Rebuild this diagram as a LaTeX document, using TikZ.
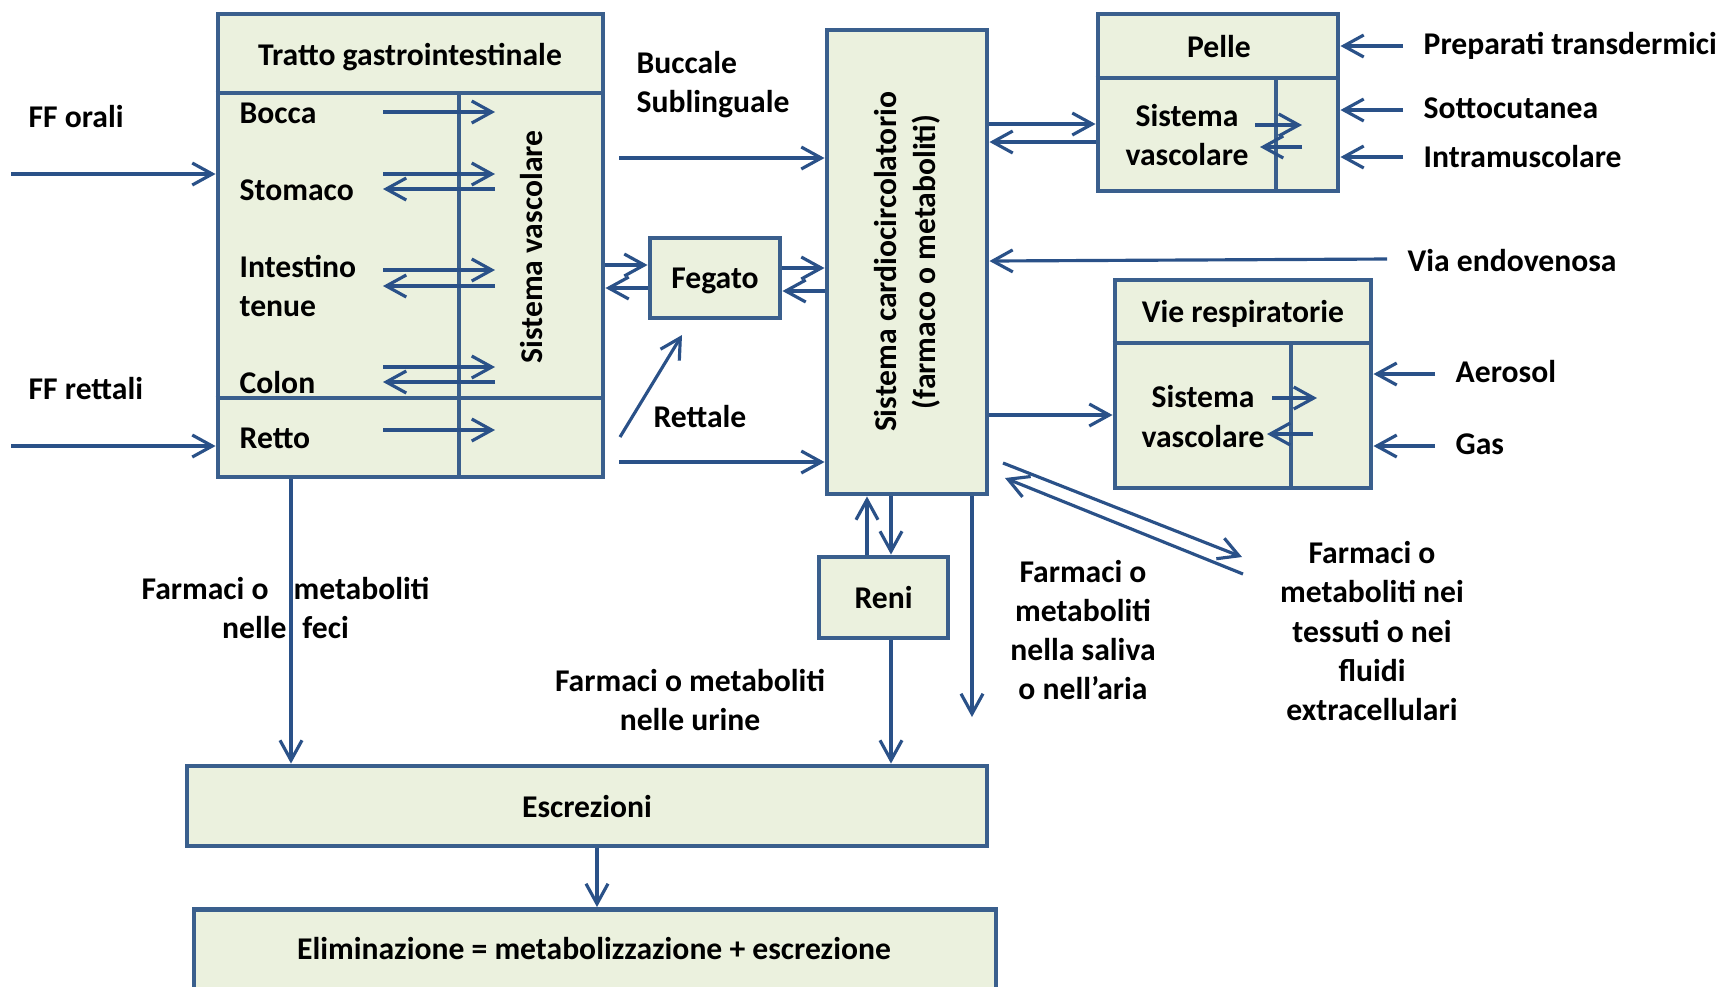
\documentclass[tikz,border=0pt]{standalone}
\usepackage{fontspec}
\setmainfont{Carlito}
\usetikzlibrary{calc,arrows.meta}
\definecolor{edge}{HTML}{3A5F8D}
\definecolor{pane}{HTML}{EBF1DE}
\definecolor{flowc}{HTML}{2A5188}
\begin{document}
\begin{tikzpicture}[
    lbl/.style={font=\bfseries\fontsize{9}{11.1}\selectfont, inner sep=0pt},
    blk/.style={lbl, draw=edge, fill=pane, line width=1.4pt, text depth=0pt},
    sep/.style={draw=edge, line width=1.4pt},
    arr/.style={draw=flowc, line width=0.9pt, -{Straight Barb[length=2mm,width=2.2mm]}}
  ]
  \useasboundingbox (0,0) rectangle (17.23,-9.86);

  % tratto gastrointestinale
  \node[blk, minimum width=3.85cm, minimum height=4.63cm] (gi) at (4.105,-2.455) {};
  \draw[sep] (gi.west |- 0,-0.93) -- (gi.east |- 0,-0.93);
  \draw[sep] (gi.west |- 0,-3.98) -- (gi.east |- 0,-3.98);
  \draw[sep] (4.59,-0.93) -- (4.59,0 |- gi.south);
  \node[lbl] (gihd) at (4.10,-0.57) {Tratto gastrointestinale};
  \node[lbl, anchor=west] (bocca) at (2.39,-1.13) {Bocca};
  \node[lbl, anchor=west] (stomaco) at (2.39,-1.90) {Stomaco};
  \node[lbl, anchor=west, align=left] (tenue) at (2.39,-2.86) {Intestino\\tenue};
  \node[lbl, anchor=west] (colon) at (2.39,-3.82) {Colon};
  \node[lbl, anchor=west] (retto) at (2.39,-4.38) {Retto};
  \node[lbl, rotate=90] (givasc) at (5.32,-2.47) {Sistema vascolare};
  \foreach \y in {-1.12,-1.74,-2.70,-3.67,-4.30}
    \draw[arr] (3.83,\y) -- (4.95,\y);
  \foreach \y in {-1.89,-2.86,-3.82}
    \draw[arr] (4.95,\y) -- (3.83,\y);

  % ingressi a sinistra
  \node[lbl, anchor=west] (ffor) at (0.28,-1.17) {FF orali};
  \node[lbl, anchor=west] (ffre) at (0.28,-3.88) {FF rettali};
  \coordinate (ffoin) at (0.11,-1.74);
  \coordinate (ffrin) at (0.11,-4.46);
  \draw[arr] (ffoin) -- (ffoin -| gi.west);
  \draw[arr] (ffrin) -- (ffrin -| gi.west);

  % fegato e circolo
  \node[blk, minimum width=1.30cm, minimum height=0.80cm] (feg) at (7.15,-2.78) {Fegato};
  \node[blk, minimum width=1.60cm, minimum height=4.64cm] (cardio) at (9.07,-2.62) {};
  \node[lbl, rotate=90, align=center] (cardiotxt) at (cardio) {Sistema cardiocircolatorio\\(farmaco o metaboliti)};
  \draw[arr] (gi.east |- 0,-2.65) -- (feg.west |- 0,-2.65);
  \draw[arr] (feg.west |- 0,-2.88) -- (gi.east |- 0,-2.88);
  \draw[arr] (feg.east |- 0,-2.68) -- (cardio.west |- 0,-2.68);
  \draw[arr] (cardio.west |- 0,-2.91) -- (feg.east |- 0,-2.91);

  \node[lbl, anchor=west, align=left] (bucc) at (6.36,-0.845) {Buccale\\Sublinguale};
  \coordinate (bucin) at (6.19,-1.58);
  \draw[arr] (bucin) -- (bucin -| cardio.west);
  \node[lbl] (rett) at (7.00,-4.16) {Rettale};
  \coordinate (retfeg) at (6.20,-4.37);
  \coordinate (retfegend) at (6.82,-3.35);
  \draw[arr] (retfeg) -- (retfegend);
  \coordinate (retin) at (6.19,-4.62);
  \draw[arr] (retin) -- (retin -| cardio.west);

  % pelle
  \node[blk, minimum width=2.40cm, minimum height=1.77cm] (pelle) at (12.18,-1.025) {};
  \draw[sep] (pelle.west |- 0,-0.78) -- (pelle.east |- 0,-0.78);
  \draw[sep] (12.76,-0.78) -- (12.76,0 |- pelle.south);
  \node[lbl] (pellehd) at (12.19,-0.47) {Pelle};
  \node[lbl, align=center] (pellevasc) at (11.87,-1.35) {Sistema\\vascolare};
  \draw[arr] (12.55,-1.25) -- (13.02,-1.25);
  \draw[arr] (13.02,-1.47) -- (12.60,-1.47);
  \draw[arr] (cardio.east |- 0,-1.24) -- (pelle.west |- 0,-1.24);
  \draw[arr] (pelle.west |- 0,-1.42) -- (cardio.east |- 0,-1.42);
  \node[lbl, anchor=west] (transd) at (14.23,-0.46) {Preparati transdermici};
  \node[lbl, anchor=west] (sottoc) at (14.23,-1.08) {Sottocutanea};
  \node[lbl, anchor=west] (intram) at (14.23,-1.57) {Intramuscolare};
  \foreach \y in {-0.46,-1.10,-1.57}
    \draw[arr] (14.03,\y) -- (pelle.east |- 0,\y);

  % endovenosa
  \node[lbl, anchor=west] (endov) at (14.07,-2.60) {Via endovenosa};
  \coordinate (evin) at (13.87,-2.59);
  \draw[arr] (evin) -- (cardio.east |- 0,-2.61);

  % vie respiratorie
  \node[blk, minimum width=2.56cm, minimum height=2.08cm] (resp) at (12.43,-3.84) {};
  \draw[sep] (resp.west |- 0,-3.43) -- (resp.east |- 0,-3.43);
  \draw[sep] (12.91,-3.43) -- (12.91,0 |- resp.south);
  \node[lbl] (resphd) at (12.43,-3.14) {Vie respiratorie};
  \node[lbl, align=center] (respvasc) at (12.03,-4.165) {Sistema\\vascolare};
  \draw[arr] (12.72,-3.98) -- (13.17,-3.98);
  \draw[arr] (13.13,-4.34) -- (12.67,-4.34);
  \draw[arr] (cardio.east |- 0,-4.15) -- (resp.west |- 0,-4.15);
  \node[lbl, anchor=west] (aeros) at (14.55,-3.71) {Aerosol};
  \node[lbl, anchor=west] (gas) at (14.55,-4.44) {Gas};
  \draw[arr] (14.35,-3.74) -- (resp.east |- 0,-3.74);
  \draw[arr] (14.35,-4.46) -- (resp.east |- 0,-4.46);

  % tessuti
  \coordinate (tsa) at (10.03,-4.63);
  \coordinate (tsb) at (12.42,-5.57);
  \coordinate (tsc) at (12.43,-5.74);
  \coordinate (tsd) at (10.05,-4.78);
  \draw[arr] (tsa) -- (tsb);
  \draw[arr] (tsc) -- (tsd);
  \node[lbl, align=center] (tessuti) at (13.72,-6.31) {Farmaci o\\metaboliti nei\\tessuti o nei\\fluidi\\extracellulari};

  % reni, saliva
  \node[blk, minimum width=1.29cm, minimum height=0.81cm] (reni) at (8.835,-5.975) {Reni};
  \draw[arr] (8.67,0 |- reni.north) -- (8.67,0 |- cardio.south);
  \draw[arr] (8.91,0 |- cardio.south) -- (8.91,0 |- reni.north);
  \coordinate (salout) at (9.72,-7.17);
  \draw[arr] (salout |- cardio.south) -- (salout);
  \node[lbl, align=center] (saliva) at (10.83,-6.30) {Farmaci o\\metaboliti\\nella saliva\\o nell’aria};

  % escrezioni
  \node[blk, minimum width=8.00cm, minimum height=0.80cm] (escr) at (5.87,-8.06) {Escrezioni};
  \node[blk, minimum width=8.02cm, minimum height=1.00cm, anchor=north] (elim) at (5.95,-9.07) {};
  \node[lbl] (elimtxt) at (5.94,-9.48) {Eliminazione = metabolizzazione + escrezione};
  \draw[arr] (2.91,0 |- gi.south) -- (2.91,0 |- escr.north);
  \draw[arr] (8.91,0 |- reni.south) -- (8.91,0 |- escr.north);
  \draw[arr] (5.97,0 |- escr.south) -- (5.97,0 |- elim.north);
  \node[lbl, align=center] (feci) at (2.855,-6.08) {Farmaci o\hspace{0.25cm}metaboliti\\nelle\hspace{0.16cm}feci};
  \node[lbl, align=center] (urine) at (6.90,-7.00) {Farmaci o metaboliti\\nelle urine};
\end{tikzpicture}
\end{document}
